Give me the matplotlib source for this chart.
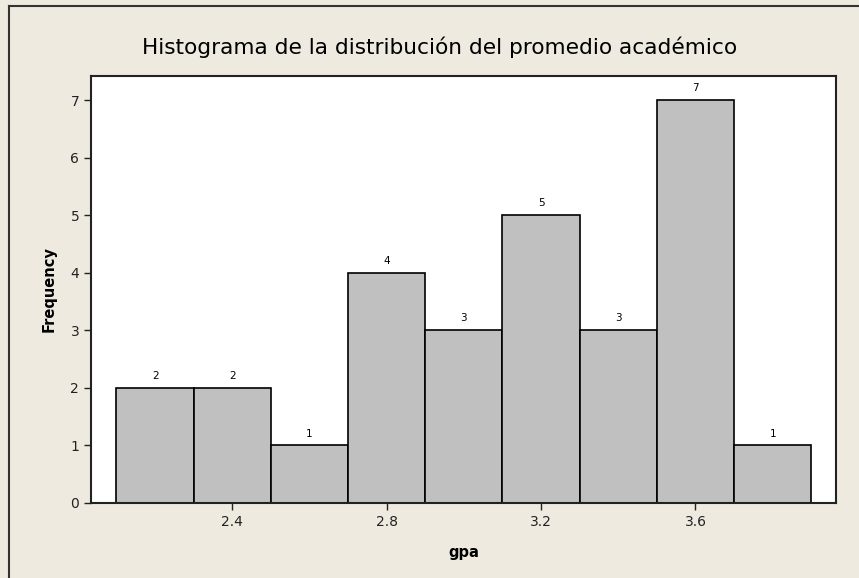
import matplotlib
matplotlib.use("Agg")
import matplotlib.pyplot as plt
from matplotlib.lines import Line2D

# histogram of gpa, bins of width 0.2
bin_centers = [2.2, 2.4, 2.6, 2.8, 3.0, 3.2, 3.4, 3.6, 3.8]
counts = [2, 2, 1, 4, 3, 5, 3, 7, 1]
bin_width = 0.2
x_ticks = [2.4, 2.8, 3.2, 3.6]
y_ticks = [0, 1, 2, 3, 4, 5, 6, 7]

bg = '#EEEAE0'

fig = plt.figure(figsize=(8.59, 5.78), dpi=100, facecolor=bg)
W, H = 859, 578
ax = fig.add_axes([91 / W, 1 - 503 / H, (836 - 91) / W, (503 - 76) / H])

ax.bar(bin_centers, counts, width=bin_width, color='#C0C0C0',
       edgecolor='black', linewidth=1.2)
for x, c in zip(bin_centers, counts):
    ax.text(x, c + 0.12, str(c), ha='center', va='bottom', fontsize=7.5)

ax.set_xlim(2.034, 3.964)
ax.set_ylim(0, 7.42)
ax.set_xticks(x_ticks)
ax.set_xticklabels([f'{t:.1f}' for t in x_ticks])
ax.set_yticks(y_ticks)
ax.tick_params(direction='out', length=5, width=1, labelsize=10, colors='#222222')
for s in ax.spines.values():
    s.set_linewidth(1.5)
    s.set_color('#222222')

ax.set_xlabel('gpa', fontsize=10.5, fontweight='bold', labelpad=12)
ax.set_ylabel('Frequency', fontsize=10.5, fontweight='bold', labelpad=10)
fig.text(440 / W, 1 - 47 / H, 'Histograma de la distribución del promedio académico',
         ha='center', va='center', fontsize=15.6)

# outer frame lines (left and top)
fig.add_artist(Line2D([9 / W, 9 / W], [0, 1 - 6 / H], color='#333333', lw=1.5,
                      transform=fig.transFigure))
fig.add_artist(Line2D([9 / W, 1], [1 - 6 / H, 1 - 6 / H], color='#333333', lw=1.5,
                      transform=fig.transFigure))

fig.savefig('out.png', dpi=100, facecolor=bg)
